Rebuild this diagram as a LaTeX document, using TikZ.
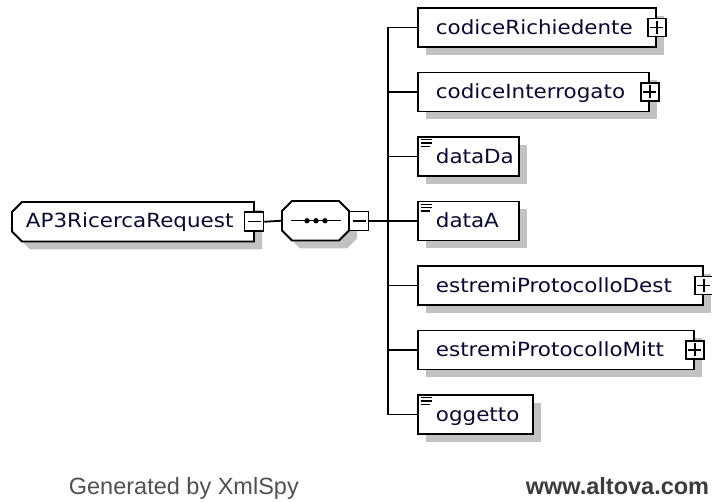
\documentclass[tikz,border=0pt]{standalone}
\usepackage{fontspec}
\setmainfont{DejaVu Sans}[FakeStretch=1.1]
\newfontfamily\footfont{Liberation Sans}
\usetikzlibrary{shadows}
\definecolor{shadowgray}{HTML}{C2C2C2}
\definecolor{txtcol}{HTML}{0A0A30}
\definecolor{footgray}{HTML}{505050}
\definecolor{footdark}{HTML}{3C3C3C}
\newcommand\elabel[2]{\makebox[#1][l]{#2}}
\begin{document}
\begin{tikzpicture}[x=1pt,y=-1pt,
  line width=1.8pt,
  shad/.style={drop shadow={shadow xshift=8pt,shadow yshift=-8pt,fill=shadowgray,opacity=1}},
  elem/.style={draw,fill=white,shad,minimum height=39pt,inner xsep=18pt,inner ysep=0pt,
    anchor=west,text height=14pt,text depth=0pt,font=\fontsize{19.5}{23}\selectfont,text=txtcol},
  rootlbl/.style={minimum height=39pt,inner xsep=13pt,inner ysep=0pt,anchor=west,
    text height=11pt,text depth=0pt,font=\fontsize{19.5}{23}\selectfont,text=txtcol},
  plusbox/.style={draw,fill=white,line width=1.5pt,minimum size=18pt,inner sep=0pt,
    path picture={\draw[line width=1.5pt]
      ([xshift=2.5pt]path picture bounding box.west) -- ([xshift=-2.5pt]path picture bounding box.east)
      ([yshift=2.5pt]path picture bounding box.south) -- ([yshift=-2.5pt]path picture bounding box.north);}},
  minusbox/.style={draw,fill=white,line width=1.5pt,minimum size=19pt,inner sep=0pt,
    path picture={\draw[line width=1.5pt]
      ([xshift=3pt]path picture bounding box.west) -- ([xshift=-3pt]path picture bounding box.east);}},
  conn/.style={line width=1.8pt},
  simpleicon/.style={line width=1.3pt}
]
\useasboundingbox (0,0) rectangle (712,502);

% root element
\draw[fill=white,shad] (12,212) -- (22,202) -- (254,202) -- (254,241.5) -- (22,241.5) -- (12,231.5) -- cycle;
\node[rootlbl] (root) at (12,221.75) {\elabel{216pt}{AP3RicercaRequest}};
\node[minusbox] (m1) at (254,221.75) {};

% sequence compositor
\draw[fill=white,shad] (282,211) -- (292,201) -- (339,201) -- (349,211) -- (349,230.5) -- (339,240.5) -- (292,240.5) -- (282,230.5) -- cycle;
\node[minimum width=67pt,minimum height=39.5pt,inner sep=0pt] (seq) at (315.5,220.75) {};
\draw[line width=1.3pt] ([xshift=10pt]seq.west) -- ([xshift=-9pt]seq.east);
\foreach \dx in {307,316,325} \fill (\dx,220.75) circle (2.7pt);
\node[minusbox] (m2) at (359,221) {};

\draw[conn] (m1.east) -- (seq.west);
\coordinate (bus) at (388,221);
\draw[conn] (m2.east) -- (bus);

% children
\node[elem] (c1) at (417,27.5) {\elabel{202pt}{codiceRichiedente}};
\node[plusbox] (p1) at (c1.east) {};
\node[elem] (c2) at (417,92) {\elabel{195pt}{codiceInterrogato}};
\node[plusbox] (p2) at (c2.east) {};
\node[elem] (c3) at (417,156.5) {\elabel{65pt}{dataDa}};
\node[elem] (c4) at (417,221) {\elabel{65pt}{dataA}};
\node[elem] (c5) at (417,285.5) {\elabel{249pt}{estremiProtocolloDest}};
\node[plusbox] (p5) at (c5.east) {};
\node[elem] (c6) at (417,350) {\elabel{240pt}{estremiProtocolloMitt}};
\node[plusbox] (p6) at (c6.east) {};
\node[elem] (c7) at (417,414.5) {\elabel{79pt}{oggetto}};

% simple-type icons
\foreach \n in {c3,c4,c7}{
  \draw[simpleicon] ([xshift=3.5pt,yshift=-3.7pt]\n.north west) -- ++(11,0);
  \draw[simpleicon] ([xshift=3.5pt,yshift=-7pt]\n.north west) -- ++(11,0);
  \draw[simpleicon] ([xshift=3.5pt,yshift=-10.3pt]\n.north west) -- ++(9,0);
}

% connectors to children
\foreach \n in {c1,c2,c3,c4,c5,c6,c7}
  \draw[conn] (\n.west) -| (bus);

% footer
\node[anchor=base west,inner sep=0pt,font=\footfont\fontsize{23.5}{28}\selectfont,text=footgray] (gen) at (68,494) {Generated by XmlSpy};
\node[anchor=base east,inner sep=0pt,font=\footfont\bfseries\fontsize{23.5}{28}\selectfont,text=footdark] (web) at (710,494) {www.altova.com};
\end{tikzpicture}
\end{document}
